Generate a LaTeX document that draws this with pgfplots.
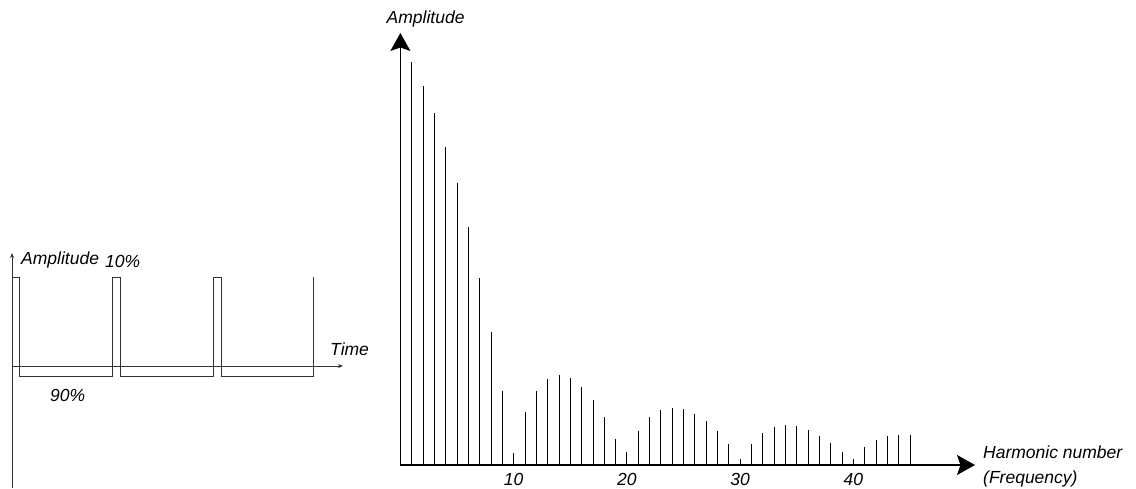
\documentclass[border=0pt]{standalone}
\usepackage{fontspec}
\setmainfont{Liberation Sans}
\usepackage{pgfplots}
\pgfplotsset{compat=1.18}
\usetikzlibrary{arrows.meta}
\pgfplotstableread{
n a
1 403
2 379
3 352
4 318
5 282
6 238
7 187
8 133
9 74
10 12
11 53
12 74
13 86
14 90
15 87
16 78
17 65
18 48
19 26
20 13
21 34
22 48
23 55
24 57
25 56
26 51
27 44
28 34
29 21
30 6
31 21
32 32
33 38
34 40
35 39
36 35
37 29
38 22
39 13
40 6
41 18
42 25
43 29
44 30
45 30
}\harmonics
\pgfplotstableread{
t v
0 88.7
7.3 88.7
7.3 -10.7
100 -10.7
100 88.7
108.7 88.7
108.7 -10.7
201.3 -10.7
201.3 88.7
209 88.7
209 -10.7
301.3 -10.7
301.3 88.7
}\pulse
\begin{document}
\begin{tikzpicture}[x=1pt,y=1pt,
  lbl/.style={font=\fontsize{17.5}{20}\selectfont\itshape, inner sep=0pt, anchor=base west}]
\useasboundingbox (0,0) rectangle (1136,489);
% left: pulse wave
\begin{axis}[at={(12pt,1pt)}, anchor=south west, scale only axis,
  width=331pt, height=235pt,
  xmin=0, xmax=331, ymin=-122, ymax=113,
  axis lines=middle,
  axis line style={draw=black!80, line width=0.9pt, -{Stealth[length=5pt,width=4pt]}},
  xtick=\empty, ytick=\empty, clip=false]
\addplot[draw=black!80, line width=0.9pt, mark=none] table[x=t,y=v] {\pulse};
\end{axis}
% right: spectrum
\begin{axis}[at={(400.4pt,24pt)}, anchor=south west, scale only axis,
  width=574.6pt, height=432pt,
  xmin=0, xmax=50.74, ymin=0, ymax=432,
  axis lines=left,
  axis line style={line width=1.2pt, -{Stealth[length=18pt,width=20pt,inset=3.5pt]}},
  xtick={10,20,30,40}, ytick=\empty, major tick length=0pt,
  tick label style={font=\fontsize{17.5}{20}\selectfont\itshape},
  xticklabel style={yshift=-5pt},
  /pgf/number format/assume math mode=true,
  clip=false]
\addplot[ycomb, black, line width=0.8pt, mark=none] table[x=n,y=a] {\harmonics};
\end{axis}
\node[lbl] at (21,224) {Amplitude};
\node[lbl] at (105,221) {10\%};
\node[lbl] at (330,133.5) {Time};
\node[lbl] at (50,87.5) {90\%};
\node[lbl] at (386.5,465) {Amplitude};
\node[lbl] at (983,30) {Harmonic number};
\node[lbl] at (983,5) {(Frequency)};
\end{tikzpicture}
\end{document}
